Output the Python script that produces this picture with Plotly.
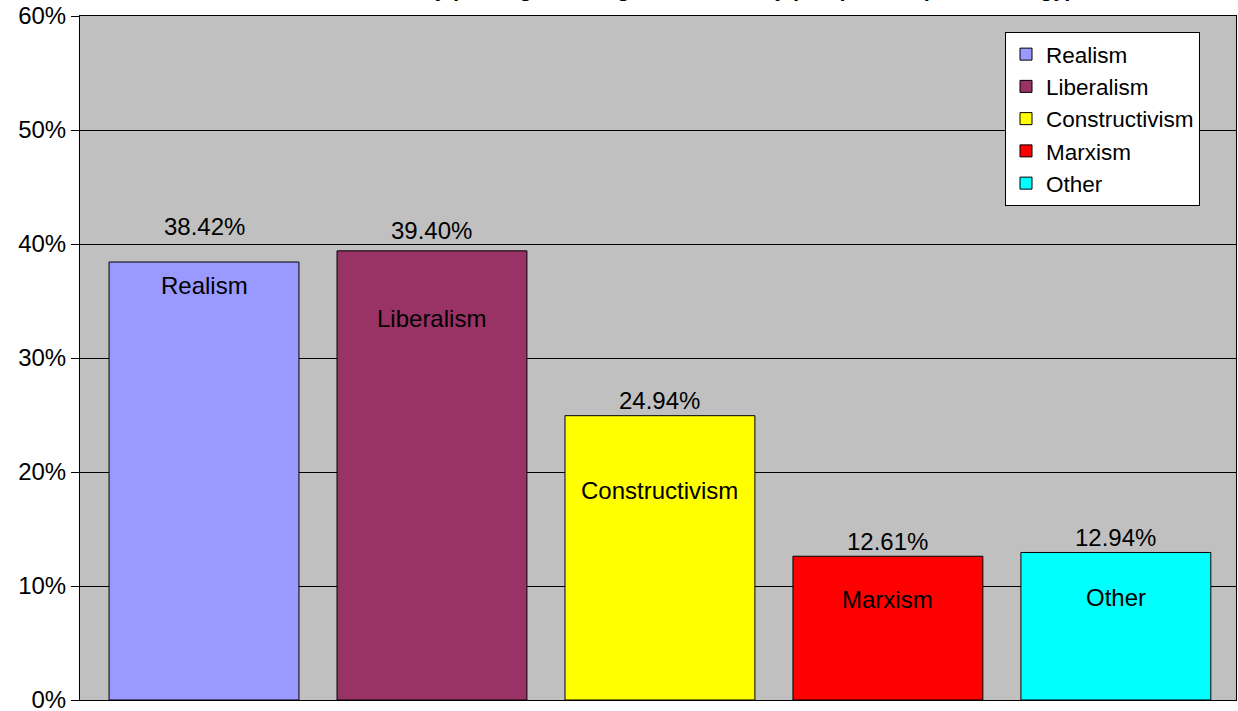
import plotly.graph_objects as go

categories = ["Realism", "Liberalism", "Constructivism", "Marxism", "Other"]
values = [38.42, 39.40, 24.94, 12.61, 12.94]
colors = ["#9999FF", "#993366", "#FFFF00", "#FF0000", "#00FFFF"]
value_labels = ["38.42%", "39.40%", "24.94%", "12.61%", "12.94%"]
tick_vals = [0, 10, 20, 30, 40, 50, 60]
tick_text = ["0%", "10%", "20%", "30%", "40%", "50%", "60%"]
title_text = "Primary paradigm among IR scholars by perspective (Methodology)"

# label placement (layout only)
name_label_y = [36.4, 33.5, 18.4, 8.8, 9.0]
value_label_shift = [36, 20, 15, 15, 15]

FONT = "Liberation Sans, Arial, sans-serif"
FS = 24

fig = go.Figure()
for i, (c, v, col) in enumerate(zip(categories, values, colors)):
    fig.add_trace(go.Bar(
        x=[i], y=[v], name=c, width=0.833,
        marker=dict(color=col, line=dict(color="black", width=1)),
        hoverinfo="skip",
    ))
    fig.add_annotation(x=i, y=v, text=value_labels[i], showarrow=False,
                       yanchor="middle", yshift=value_label_shift[i],
                       font=dict(size=FS, color="black", family=FONT))
    fig.add_annotation(x=i, y=name_label_y[i], text=c, showarrow=False,
                       yanchor="middle",
                       font=dict(size=FS, color="black", family=FONT))

fig.add_annotation(x=(1075 - 80) / 1156, xref="paper", y=1, yref="paper",
                   text="<b>" + title_text + "</b>",
                   showarrow=False, xanchor="right", yanchor="bottom", yshift=13,
                   font=dict(size=22, color="black", family=FONT))

fig.update_layout(
    width=1238, height=711,
    margin=dict(l=80, r=2, t=16, b=11, pad=0),
    paper_bgcolor="white", plot_bgcolor="#C0C0C0",
    barmode="overlay",
    showlegend=True,
    legend=dict(
        x=(1005 - 80) / 1156, y=(700 - 32) / 684, xanchor="left", yanchor="top",
        bgcolor="white", bordercolor="black", borderwidth=1,
        font=dict(size=22.5, color="black", family=FONT),
        tracegroupgap=0, itemwidth=30,
    ),
    font=dict(family=FONT, color="black"),
)
fig.update_xaxes(range=[-0.544, 4.527], showticklabels=False, showgrid=False,
                 zeroline=False, showline=True, linecolor="black", linewidth=1,
                 mirror=True, ticks="", automargin=False)
fig.update_yaxes(range=[0, 60], tickvals=tick_vals, ticktext=tick_text,
                 showgrid=True, gridcolor="black", gridwidth=1, zeroline=False,
                 showline=True, linecolor="black", linewidth=1, mirror=True,
                 ticks="outside", ticklen=8, tickcolor="black", automargin=False,
                 ticklabeloverflow="allow",
                 tickfont=dict(size=FS, color="black", family=FONT))

fig.write_html("out.html", config={"displayModeBar": False},
               post_script="document.body.style.margin='0px';document.body.style.overflow='hidden';")
